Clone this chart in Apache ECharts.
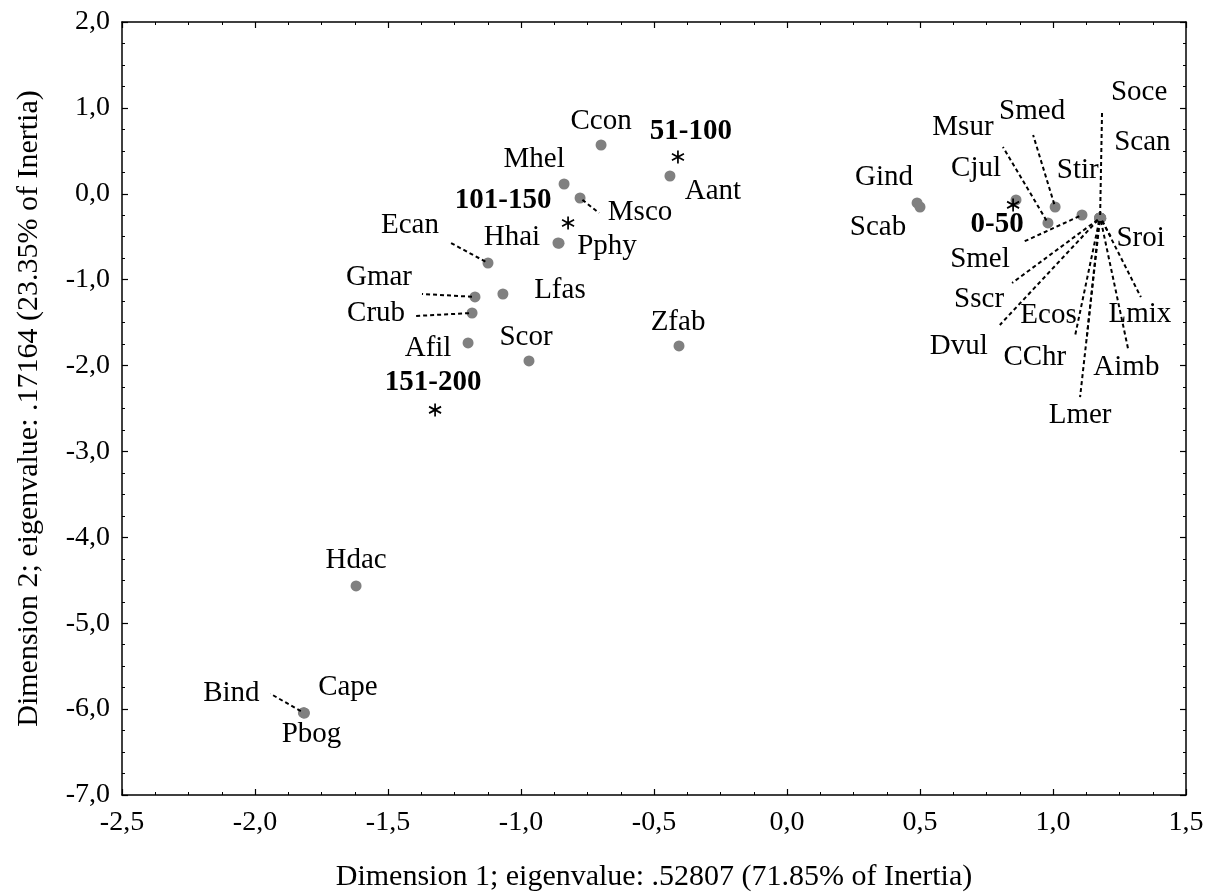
<!DOCTYPE html>
<html>
<head>
<meta charset="utf-8">
<script src="https://cdn.jsdelivr.net/npm/echarts@6/dist/echarts.min.js"></script>
<style>html,body{margin:0;padding:0;background:#fff}#chart{width:1217px;height:892px}</style>
</head>
<body>
<div id="chart"></div>
<script>
// ---- data ----
const speciesNames = ['Ccon','Aant','Mhel','Msco','Hhai','Pphy','Ecan','Gmar','Lfas','Crub','Afil','Scor','Zfab','Hdac','Cape','Pbog','Bind','Gind','Scab','Cjul','Msur','Smed','Smel','Soce','Scan','Stir','Sroi','Lmix','Aimb','Lmer','CChr','Ecos','Dvul','Sscr'];
const speciesDim1 = [-0.699,-0.440,-0.838,-0.778,-0.861,-0.857,-1.124,-1.173,-1.068,-1.184,-1.199,-0.970,-0.406,-1.620,-1.816,-1.814,-1.818,0.489,0.500,0.861,0.981,1.008,1.109,1.177,1.178,1.176,1.179,1.180,1.178,1.177,1.176,1.175,1.176,1.177];
const speciesDim2 = [0.568,0.207,0.114,-0.049,-0.573,-0.575,-0.806,-1.201,-1.167,-1.388,-1.737,-1.946,-1.772,-4.566,-6.044,-6.046,-6.042,-0.107,-0.154,-0.072,-0.340,-0.154,-0.247,-0.282,-0.282,-0.283,-0.284,-0.284,-0.283,-0.283,-0.282,-0.282,-0.282,-0.282];
const ageNames = ['0-50','51-100','101-150','151-200'];
const ageDim1 = [0.850,-0.410,-0.823,-1.323];
const ageDim2 = [-0.130,0.428,-0.340,-2.517];
const xTicks = {min:-2.5, max:1.5, step:0.5};
const yTicks = {min:-7, max:2, step:1};
const xTitle = 'Dimension 1; eigenvalue: .52807 (71.85% of Inertia)';
const yTitle = 'Dimension 2; eigenvalue: .17164 (23.35% of Inertia)';

// ---- layout (pixel offsets of labels / leader ends from their point) ----
const labelOffset = {
  'Ccon':[0,-24],'Aant':[43,15],'Mhel':[-30,-25],'Msco':[60,14],'Hhai':[-46,-6],'Pphy':[48,3],
  'Ecan':[-78,-38],'Gmar':[-96,-20],'Lfas':[57,-4],'Crub':[-96,0],'Afil':[-40,5],'Scor':[-3,-24],
  'Zfab':[-1,-24],'Hdac':[0,-26],'Cape':[44,-25],'Pbog':[7,21],'Bind':[-72,-19],
  'Gind':[-33,-26],'Scab':[-42,20],'Cjul':[-40,-32],'Msur':[-85,-96],'Smed':[-23,-96],'Smel':[-102,44],
  'Soce':[39,-126],'Scan':[42,-76],'Stir':[-22,-48],'Sroi':[40,20],'Lmix':[39,96],'Aimb':[26,149],
  'Lmer':[-20,197],'CChr':[-65,139],'Ecos':[-51,97],'Dvul':[-141,128],'Sscr':[-121,81],
  '0-50':[-16,20],'51-100':[13,-26],'101-150':[-65,-22],'151-200':[-2,-27]
};
const leaderEnd = {
  'Msco':[19,15],'Ecan':[-37,-20],'Gmar':[-53,-3],'Crub':[-56,3],'Bind':[-33,-19],
  'Msur':[-45,-76],'Smed':[-22,-72],'Smel':[-59,27],'Soce':[2,-108],'Sscr':[-88,65],'Dvul':[-100,107],
  'Ecos':[-13,122],'CChr':[-25,119],'Lmer':[-20,179],'Aimb':[28,132],'Lmix':[40,79],'Sroi':[10,18]
};

const FONT = 'Liberation Serif';
const fmt = v => v.toFixed(1).replace('.', ',');

const speciesData = speciesNames.map((n, i) => ({
  name: n, value: [speciesDim1[i], speciesDim2[i]],
  label: { offset: labelOffset[n] || [0, 0] }
}));
const ageData = ageNames.map((n, i) => ({
  name: n, value: [ageDim1[i], ageDim2[i]],
  label: { offset: labelOffset[n] || [0, 0] }
}));
const leaderNames = speciesNames.filter(n => leaderEnd[n]);
const leaderData = leaderNames.map(n => {
  const i = speciesNames.indexOf(n);
  return { name: n, value: [speciesDim1[i], speciesDim2[i]] };
});

function axisCommon(showLabel) {
  return {
    type: 'value',
    axisLine: { show: true, onZero: false, lineStyle: { color: '#000', width: 1.5 } },
    axisTick: { show: true, inside: true, length: 6, lineStyle: { color: '#000', width: 1.2 } },
    minorTick: { show: true, splitNumber: 4, length: 3, lineStyle: { color: '#000', width: 1 } },
    splitLine: { show: false },
    minorSplitLine: { show: false },
    axisLabel: { show: showLabel, formatter: fmt, color: '#000', fontFamily: FONT, fontSize: 28 }
  };
}

const chart = echarts.init(document.getElementById('chart'), null, { renderer: 'canvas' });
chart.setOption({
  animation: false,
  backgroundColor: '#fff',
  grid: { left: 122, right: 31, top: 22, bottom: 97, containLabel: false, outerBoundsMode: 'none' },
  xAxis: [
    Object.assign(axisCommon(true), {
      position: 'bottom', min: xTicks.min, max: xTicks.max, interval: xTicks.step,
      name: xTitle, nameLocation: 'middle', nameGap: 67,
      nameTextStyle: { color: '#000', fontFamily: FONT, fontSize: 30 },
      axisLabel: { show: true, formatter: fmt, color: '#000', fontFamily: FONT, fontSize: 28, margin: 14 }
    }),
    Object.assign(axisCommon(false), {
      position: 'top', min: xTicks.min, max: xTicks.max, interval: xTicks.step
    })
  ],
  yAxis: [
    Object.assign(axisCommon(true), {
      position: 'left', min: yTicks.min, max: yTicks.max, interval: yTicks.step,
      name: yTitle, nameLocation: 'middle', nameGap: 78, nameRotate: 90,
      nameTextStyle: { color: '#000', fontFamily: FONT, fontSize: 30 },
      axisLabel: { show: true, formatter: fmt, color: '#000', fontFamily: FONT, fontSize: 28, margin: 12 }
    }),
    Object.assign(axisCommon(false), {
      position: 'right', min: yTicks.min, max: yTicks.max, interval: yTicks.step
    })
  ],
  series: [
    {
      type: 'custom',
      name: 'leaders',
      coordinateSystem: 'cartesian2d',
      xAxisIndex: 0, yAxisIndex: 0,
      clip: false,
      z: 3,
      encode: { x: 0, y: 1 },
      data: leaderData,
      renderItem: function (params, api) {
        const p = api.coord([api.value(0), api.value(1)]);
        const off = leaderEnd[leaderNames[params.dataIndex]];
        const ex = p[0] + off[0], ey = p[1] + off[1];
        const len = Math.hypot(off[0], off[1]) || 1;
        const sx = p[0] + off[0] / len * 3, sy = p[1] + off[1] / len * 3;
        return {
          type: 'line',
          shape: { x1: sx, y1: sy, x2: ex, y2: ey },
          style: { stroke: '#000', lineWidth: 2, lineDash: [4, 3] },
          silent: true
        };
      }
    },
    {
      type: 'scatter',
      name: 'species',
      z: 2,
      symbol: 'circle',
      symbolSize: 11,
      itemStyle: { color: '#808080', opacity: 1 },
      label: {
        show: true, position: 'inside', formatter: '{b}', opacity: 1,
        color: '#000', fontFamily: FONT, fontSize: 29, fontWeight: 'normal',
        textBorderWidth: 0, align: 'center', verticalAlign: 'middle'
      },
      emphasis: { disabled: true },
      data: speciesData
    },
    {
      type: 'scatter',
      name: 'age',
      z: 4,
      symbol: 'path://M5,0L5,10M0.67,2.5L9.33,7.5M0.67,7.5L9.33,2.5',
      symbolSize: [12, 13],
      itemStyle: { color: 'rgba(0,0,0,0)', borderColor: '#000', borderWidth: 1.8, opacity: 1 },
      label: {
        show: true, position: 'inside', formatter: '{b}', opacity: 1,
        color: '#000', fontFamily: FONT, fontSize: 29, fontWeight: 'bold',
        textBorderWidth: 0, align: 'center', verticalAlign: 'middle'
      },
      emphasis: { disabled: true },
      data: ageData
    }
  ]
});
</script>
</body>
</html>
